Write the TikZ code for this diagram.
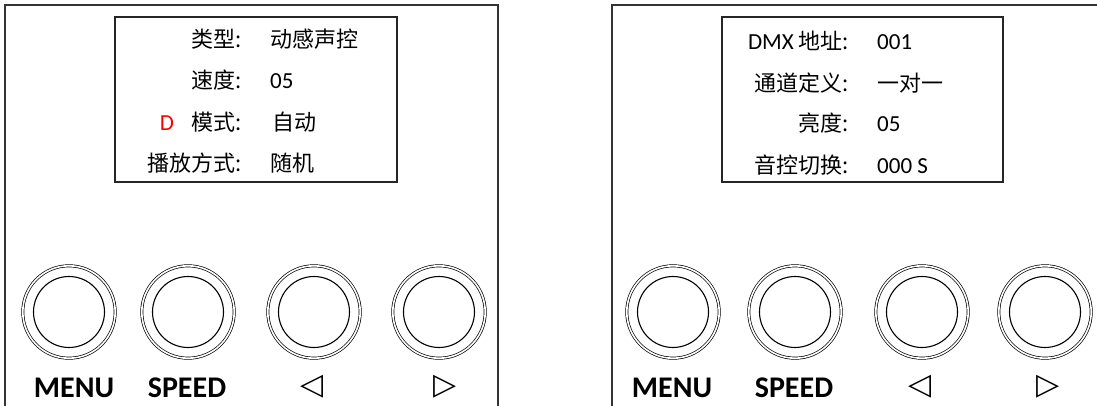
\documentclass[tikz,border=0pt]{standalone}
\usepackage{fontspec}
\setmainfont{Carlito}
\newfontfamily\cjk{Noto Sans CJK SC}
\newfontfamily\trifont{DejaVu Sans}
\tikzset{
  panel/.style={line width=1.3pt, black!80},
  screen/.style={line width=1.3pt, black!85},
  knob/.style={circle, draw, double, double distance=1.6pt, line width=0.7pt, minimum size=92.4pt, inner sep=0pt},
  knobcap/.style={circle, draw, line width=1.1pt, minimum size=71pt, inner sep=0pt},
  keyname/.style={font=\bfseries\fontsize{30}{30}\selectfont, anchor=base, inner sep=0pt},
  arrowkey/.style={font=\trifont\fontsize{30}{30}\selectfont, inner sep=0pt},
  item/.style={font=\cjk\fontsize{22}{22}\selectfont, anchor=base east, inner sep=0pt},
  value/.style={font=\cjk\fontsize{22}{22}\selectfont, anchor=base west, inner sep=0pt},
  num/.style={font=\fontsize{23}{23}\selectfont, anchor=base west, inner sep=0pt},
}

\begin{document}
\begin{tikzpicture}[x=1pt, y=-1pt]
        \useasboundingbox (0,0) rectangle (1097,406);

        % Panels
        \draw[panel] (5,406) -- (5,5) -- (498,5) -- (498,406);
        \draw[panel] (612,406) -- (612,5) -- (1097,5);

        % Screens
        \draw[screen] (115,17) rectangle (397,182);
        \draw[screen] (722,17) rectangle (1003,182);

        % Left screen
        \node[item] (typel) at (242,48) {类型:};
        \node[value] (typev) at (270,48) {动感声控};
        \node[item] (speedl) at (242,89) {速度:};
        \node[num] (speedv) at (270,89) {05};
        \node[num, red, anchor=base] (cursor) at (167,131) {D};
        \node[item] (model) at (242,131) {模式:};
        \node[value] (modev) at (272,131) {自动};
        \node[item] (playl) at (242,172) {播放方式:};
        \node[value] (playv) at (270,172) {随机};

        % Right screen
        \node[item] (dmxl) at (849,50) {{\rmfamily\fontsize{23}{23}\selectfont DMX} 地址:};
        \node[num] (dmxv) at (877,50) {001};
        \node[item] (chanl) at (849,92) {通道定义:};
        \node[value] (chanv) at (877,92) {一对一};
        \node[item] (brightl) at (849,132) {亮度:};
        \node[num] (brightv) at (877,132) {05};
        \node[item] (soundl) at (849,174) {音控切换:};
        \node[num] (soundv) at (877,174) {000 S};

        % Buttons
        \foreach \x/\n in {69/menuA,188/speedA,314/leftA,439/rightA,673/menuB,795/speedB,922/leftB,1045/rightB} {
            \node[knob] (\n) at (\x,312) {};
            \node[knobcap] (\n cap) at (\n) {};
        }

        % Button labels
        \foreach \x/\n in {74/menuA,672/menuB}
            \node[keyname] (\n text) at (\x,397) {MENU};
        \foreach \x/\n in {187/speedA,794/speedB}
            \node[keyname] (\n text) at (\x,397) {SPEED};
        \foreach \x/\n in {312/leftA,920/leftB}
            \node[arrowkey] (\n text) at (\x,387) {◁};
        \foreach \x/\n in {445/rightA,1048/rightB}
            \node[arrowkey] (\n text) at (\x,387) {▷};
    \end{tikzpicture}
\end{document}
